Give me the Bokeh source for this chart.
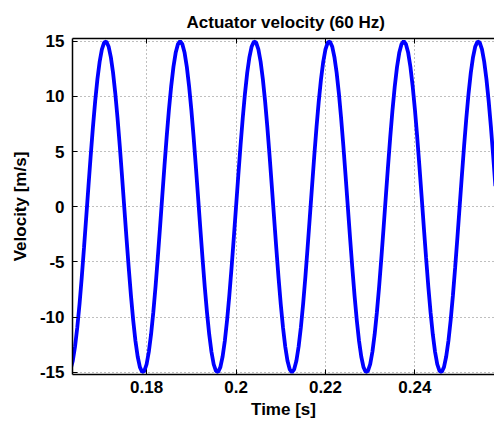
from bokeh.plotting import figure
from bokeh.models import Range1d, FixedTicker, LinearAxis, Title
from bokeh.embed import file_html
from bokeh.resources import INLINE

# ---- data ----
time_s = [
    0.1630, 0.1635, 0.1640, 0.1645, 0.1650, 0.1655, 0.1660, 0.1665, 0.1670, 0.1675,
    0.1680, 0.1685, 0.1690, 0.1695, 0.1700, 0.1705, 0.1710, 0.1715, 0.1720, 0.1725,
    0.1730, 0.1735, 0.1740, 0.1745, 0.1750, 0.1755, 0.1760, 0.1765, 0.1770, 0.1775,
    0.1780, 0.1785, 0.1790, 0.1795, 0.1800, 0.1805, 0.1810, 0.1815, 0.1820, 0.1825,
    0.1830, 0.1835, 0.1840, 0.1845, 0.1850, 0.1855, 0.1860, 0.1865, 0.1870, 0.1875,
    0.1880, 0.1885, 0.1890, 0.1895, 0.1900, 0.1905, 0.1910, 0.1915, 0.1920, 0.1925,
    0.1930, 0.1935, 0.1940, 0.1945, 0.1950, 0.1955, 0.1960, 0.1965, 0.1970, 0.1975,
    0.1980, 0.1985, 0.1990, 0.1995, 0.2000, 0.2005, 0.2010, 0.2015, 0.2020, 0.2025,
    0.2030, 0.2035, 0.2040, 0.2045, 0.2050, 0.2055, 0.2060, 0.2065, 0.2070, 0.2075,
    0.2080, 0.2085, 0.2090, 0.2095, 0.2100, 0.2105, 0.2110, 0.2115, 0.2120, 0.2125,
    0.2130, 0.2135, 0.2140, 0.2145, 0.2150, 0.2155, 0.2160, 0.2165, 0.2170, 0.2175,
    0.2180, 0.2185, 0.2190, 0.2195, 0.2200, 0.2205, 0.2210, 0.2215, 0.2220, 0.2225,
    0.2230, 0.2235, 0.2240, 0.2245, 0.2250, 0.2255, 0.2260, 0.2265, 0.2270, 0.2275,
    0.2280, 0.2285, 0.2290, 0.2295, 0.2300, 0.2305, 0.2310, 0.2315, 0.2320, 0.2325,
    0.2330, 0.2335, 0.2340, 0.2345, 0.2350, 0.2355, 0.2360, 0.2365, 0.2370, 0.2375,
    0.2380, 0.2385, 0.2390, 0.2395, 0.2400, 0.2405, 0.2410, 0.2415, 0.2420, 0.2425,
    0.2430, 0.2435, 0.2440, 0.2445, 0.2450, 0.2455, 0.2460, 0.2465, 0.2470, 0.2475,
    0.2480, 0.2485, 0.2490, 0.2495, 0.2500, 0.2505, 0.2510, 0.2515, 0.2520, 0.2525,
    0.2530, 0.2535, 0.2540, 0.2545, 0.2550, 0.2555, 0.2560, 0.2565, 0.2570, 0.2575,
    0.2580,
]

velocity = [
    -14.73, -13.95, -12.66, -10.93, -8.82, -6.39, -3.73, -0.94, 1.88, 4.64,
    7.23, 9.56, 11.56, 13.14, 14.27, 14.88, 14.97, 14.53, 13.57, 12.14,
    10.27, 8.04, 5.52, 2.81, 0.00, -2.81, -5.52, -8.04, -10.27, -12.14,
    -13.57, -14.53, -14.97, -14.88, -14.27, -13.14, -11.56, -9.56, -7.23, -4.64,
    -1.88, 0.94, 3.73, 6.39, 8.82, 10.93, 12.66, 13.95, 14.73, 15.00,
    14.73, 13.95, 12.66, 10.93, 8.82, 6.39, 3.73, 0.94, -1.88, -4.64,
    -7.23, -9.56, -11.56, -13.14, -14.27, -14.88, -14.97, -14.53, -13.57, -12.14,
    -10.27, -8.04, -5.52, -2.81, 0.00, 2.81, 5.52, 8.04, 10.27, 12.14,
    13.57, 14.53, 14.97, 14.88, 14.27, 13.14, 11.56, 9.56, 7.23, 4.64,
    1.88, -0.94, -3.73, -6.39, -8.82, -10.93, -12.66, -13.95, -14.73, -15.00,
    -14.73, -13.95, -12.66, -10.93, -8.82, -6.39, -3.73, -0.94, 1.88, 4.64,
    7.23, 9.56, 11.56, 13.14, 14.27, 14.88, 14.97, 14.53, 13.57, 12.14,
    10.27, 8.04, 5.52, 2.81, 0.00, -2.81, -5.52, -8.04, -10.27, -12.14,
    -13.57, -14.53, -14.97, -14.88, -14.27, -13.14, -11.56, -9.56, -7.23, -4.64,
    -1.88, 0.94, 3.73, 6.39, 8.82, 10.93, 12.66, 13.95, 14.73, 15.00,
    14.73, 13.95, 12.66, 10.93, 8.82, 6.39, 3.73, 0.94, -1.88, -4.64,
    -7.23, -9.56, -11.56, -13.14, -14.27, -14.88, -14.97, -14.53, -13.57, -12.14,
    -10.27, -8.04, -5.52, -2.81, 0.00, 2.81, 5.52, 8.04, 10.27, 12.14,
    13.57, 14.53, 14.97, 14.88, 14.27, 13.14, 11.56, 9.56, 7.23, 4.64,
    1.88,
]

x_ticks = [0.18, 0.20, 0.22, 0.24]
x_tick_labels = ["0.18", "0.2", "0.22", "0.24"]
y_ticks = [-15, -10, -5, 0, 5, 10, 15]
y_tick_labels = ["-15", "-10", "-5", "0", "5", "10", "15"]

title_text = "Actuator velocity (60 Hz)"
x_label = "Time [s]"
y_label = "Velocity [m/s]"

FONT = "Liberation Sans"
FS = "17px"

p = figure(
    width=494, height=421,
    output_backend="svg", toolbar_location=None,
    x_range=Range1d(0.16343, 0.2578),
    y_range=Range1d(-15.2, 15.25),
    min_border_left=72, min_border_right=0,
    min_border_top=38, min_border_bottom=44,
)
p.outline_line_color = None
p.background_fill_color = "white"
p.border_fill_color = "white"

p.line(time_s, velocity, line_color="#0000ff", line_width=3.8)

xt = FixedTicker(ticks=x_ticks, minor_ticks=[])
yt = FixedTicker(ticks=y_ticks, minor_ticks=[])

for ax, t, labs in ((p.xaxis[0], xt, x_tick_labels), (p.yaxis[0], yt, y_tick_labels)):
    ax.ticker = t
    ax.major_label_overrides = {v: s for v, s in zip(t.ticks, labs)}
    ax.major_tick_in = 5
    ax.major_tick_out = 0
    ax.minor_tick_in = 0
    ax.minor_tick_out = 0
    ax.axis_line_color = "black"
    ax.axis_line_width = 1.5
    ax.major_tick_line_color = "black"
    ax.major_label_text_font = FONT
    ax.major_label_text_font_size = FS
    ax.major_label_text_font_style = "bold"
    ax.major_label_text_color = "black"
    ax.axis_label_text_font = FONT
    ax.axis_label_text_font_size = FS
    ax.axis_label_text_font_style = "bold"
    ax.axis_label_text_color = "black"

p.xaxis.axis_label = x_label
p.yaxis.axis_label = y_label
p.xaxis.major_label_standoff = 6
p.xaxis.axis_label_standoff = 4
p.yaxis.major_label_standoff = 8
p.yaxis.axis_label_standoff = 7

# MATLAB-style box: top border with inward ticks, no labels drawn
top = LinearAxis(ticker=xt, major_label_text_font_size="1px", major_label_text_color=None,
                 major_tick_in=5, major_tick_out=0, minor_tick_in=0, minor_tick_out=0,
                 axis_line_color="black", axis_line_width=1.5,
                 major_label_standoff=0)
p.add_layout(top, "above")

for g, t in ((p.xgrid[0], xt), (p.ygrid[0], yt)):
    g.ticker = t
    g.grid_line_color = "#7f7f7f"
    g.grid_line_dash = "1 3"
    g.grid_line_width = 1

p.add_layout(Title(text=title_text, align="left", offset=114,
                   text_font=FONT, text_font_size=FS, text_font_style="bold",
                   text_color="black", standoff=14), "above")

open("out.html", "w").write(file_html(p, INLINE))
